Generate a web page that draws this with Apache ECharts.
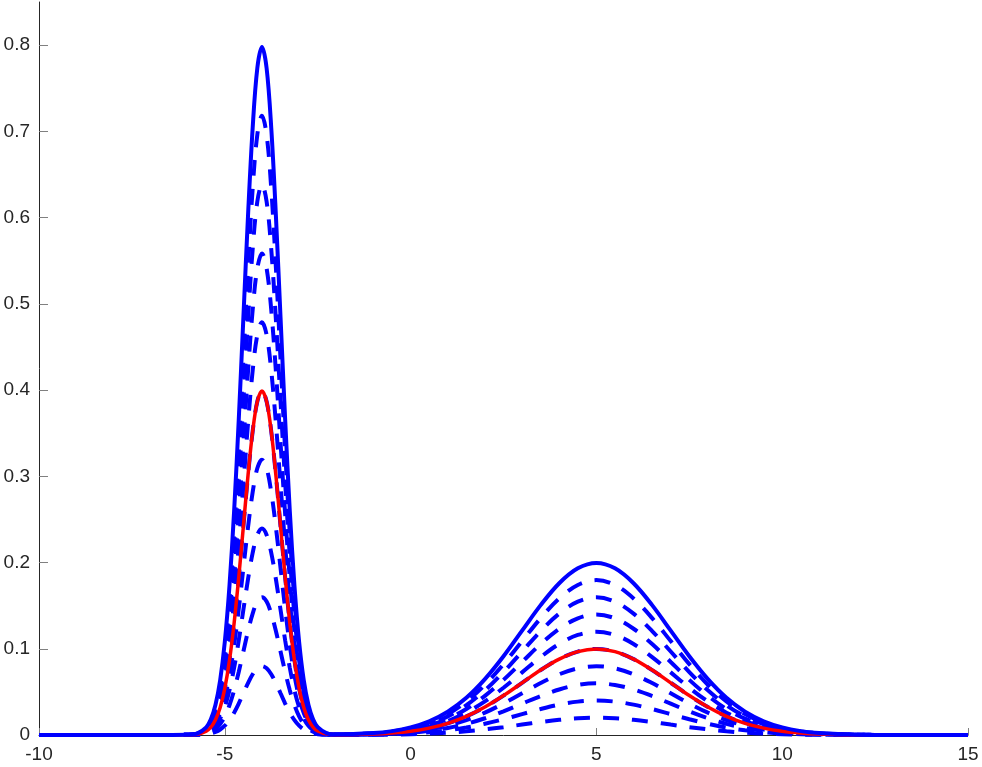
<!DOCTYPE html>
<html>
<head>
<meta charset="utf-8">
<script src="https://cdn.jsdelivr.net/npm/echarts@6/dist/echarts.min.js"></script>
<style>
html,body{margin:0;padding:0;background:#fff;}
#chart{width:982px;height:767px;}
</style>
</head>
<body>
<div id="chart"></div>
<script>
// x positions (shared by every curve)
var xs = [-10, -7, -6, -5.75, -5.5, -5.375, -5.25, -5.125, -5, -4.875, -4.75, -4.625, -4.5, -4.375, -4.25, -4.125, -4, -3.875, -3.75, -3.625, -3.5, -3.375, -3.25, -3.125, -3, -2.875, -2.75, -2.625, -2.5, -2.25, -2, -1, -0.5, 0, 0.5, 1, 1.5, 2, 2.5, 3, 3.5, 4, 4.5, 5, 5.5, 6, 6.5, 7, 7.5, 8, 8.5, 9, 9.5, 10, 10.5, 11, 12, 13, 15];

// solid blue curve
var solidBlue = [0, 0, 0.0003, 0.0017, 0.0089, 0.0182, 0.0351, 0.0635, 0.108, 0.1726, 0.259, 0.3653, 0.4839, 0.6023, 0.7041, 0.7733, 0.7979, 0.7733, 0.7041, 0.6023, 0.4839, 0.3653, 0.259, 0.1726, 0.108, 0.0635, 0.0352, 0.0183, 0.0091, 0.002, 0.0007, 0.0022, 0.0045, 0.0088, 0.0159, 0.027, 0.0431, 0.0648, 0.0913, 0.121, 0.1506, 0.176, 0.1933, 0.1995, 0.1933, 0.176, 0.1506, 0.121, 0.0913, 0.0648, 0.0431, 0.027, 0.0159, 0.0088, 0.0045, 0.0022, 0.0004, 0.0001, 0];

// red curve
var redCurve = [0, 0, 0.0002, 0.0009, 0.0045, 0.0091, 0.0176, 0.0318, 0.054, 0.0863, 0.1295, 0.1827, 0.242, 0.3012, 0.3521, 0.3867, 0.399, 0.3867, 0.3521, 0.3012, 0.242, 0.1827, 0.1295, 0.0863, 0.054, 0.0318, 0.0176, 0.0092, 0.0046, 0.001, 0.0004, 0.0011, 0.0023, 0.0044, 0.008, 0.0135, 0.0216, 0.0324, 0.0457, 0.0605, 0.0753, 0.088, 0.0967, 0.0998, 0.0967, 0.088, 0.0753, 0.0605, 0.0457, 0.0324, 0.0216, 0.0135, 0.008, 0.0044, 0.0023, 0.0011, 0.0002, 0.0001, 0];

// dashed blue curves
var dash90 = [0, 0, 0.0003, 0.0015, 0.008, 0.0164, 0.0316, 0.0572, 0.0972, 0.1553, 0.2331, 0.3288, 0.4355, 0.5421, 0.6337, 0.696, 0.7181, 0.696, 0.6337, 0.5421, 0.4355, 0.3288, 0.2331, 0.1553, 0.0972, 0.0572, 0.0317, 0.0165, 0.0082, 0.0018, 0.0006, 0.002, 0.0041, 0.0079, 0.0143, 0.0243, 0.0388, 0.0583, 0.0822, 0.1089, 0.1355, 0.1584, 0.174, 0.1796, 0.174, 0.1584, 0.1355, 0.1089, 0.0822, 0.0583, 0.0388, 0.0243, 0.0143, 0.0079, 0.0041, 0.002, 0.0004, 0.0001, 0];
var dash80 = [0, 0, 0.0002, 0.0014, 0.0071, 0.0146, 0.0281, 0.0508, 0.0864, 0.1381, 0.2072, 0.2922, 0.3871, 0.4818, 0.5633, 0.6186, 0.6383, 0.6186, 0.5633, 0.4818, 0.3871, 0.2922, 0.2072, 0.1381, 0.0864, 0.0508, 0.0282, 0.0146, 0.0073, 0.0016, 0.0006, 0.0018, 0.0036, 0.007, 0.0127, 0.0216, 0.0345, 0.0518, 0.073, 0.0968, 0.1205, 0.1408, 0.1546, 0.1596, 0.1546, 0.1408, 0.1205, 0.0968, 0.073, 0.0518, 0.0345, 0.0216, 0.0127, 0.007, 0.0036, 0.0018, 0.0003, 0.0001, 0];
var dash70 = [0, 0, 0.0002, 0.0012, 0.0062, 0.0127, 0.0246, 0.0445, 0.0756, 0.1208, 0.1813, 0.2557, 0.3387, 0.4216, 0.4929, 0.5413, 0.5585, 0.5413, 0.4929, 0.4216, 0.3387, 0.2557, 0.1813, 0.1208, 0.0756, 0.0445, 0.0246, 0.0128, 0.0064, 0.0014, 0.0005, 0.0015, 0.0032, 0.0062, 0.0111, 0.0189, 0.0302, 0.0454, 0.0639, 0.0847, 0.1054, 0.1232, 0.1353, 0.1397, 0.1353, 0.1232, 0.1054, 0.0847, 0.0639, 0.0454, 0.0302, 0.0189, 0.0111, 0.0062, 0.0032, 0.0015, 0.0003, 0.0001, 0];
var dash60 = [0, 0, 0.0002, 0.001, 0.0053, 0.0109, 0.0211, 0.0381, 0.0648, 0.1036, 0.1554, 0.2192, 0.2903, 0.3614, 0.4225, 0.464, 0.4787, 0.464, 0.4225, 0.3614, 0.2903, 0.2192, 0.1554, 0.1036, 0.0648, 0.0381, 0.0211, 0.011, 0.0055, 0.0012, 0.0004, 0.0013, 0.0027, 0.0053, 0.0095, 0.0162, 0.0259, 0.0389, 0.0548, 0.0726, 0.0904, 0.1056, 0.116, 0.1197, 0.116, 0.1056, 0.0904, 0.0726, 0.0548, 0.0389, 0.0259, 0.0162, 0.0095, 0.0053, 0.0027, 0.0013, 0.0002, 0.0001, 0];
var dash50 = [0, 0, 0.0002, 0.0009, 0.0045, 0.0091, 0.0176, 0.0318, 0.054, 0.0863, 0.1295, 0.1827, 0.242, 0.3012, 0.3521, 0.3867, 0.399, 0.3867, 0.3521, 0.3012, 0.242, 0.1827, 0.1295, 0.0863, 0.054, 0.0318, 0.0176, 0.0092, 0.0046, 0.001, 0.0004, 0.0011, 0.0023, 0.0044, 0.008, 0.0135, 0.0216, 0.0324, 0.0457, 0.0605, 0.0753, 0.088, 0.0967, 0.0998, 0.0967, 0.088, 0.0753, 0.0605, 0.0457, 0.0324, 0.0216, 0.0135, 0.008, 0.0044, 0.0023, 0.0011, 0.0002, 0.0001, 0];
var dash40 = [0, 0, 0.0001, 0.0007, 0.0036, 0.0073, 0.014, 0.0254, 0.0432, 0.069, 0.1036, 0.1461, 0.1936, 0.2409, 0.2816, 0.3093, 0.3192, 0.3093, 0.2816, 0.2409, 0.1936, 0.1461, 0.1036, 0.069, 0.0432, 0.0254, 0.0141, 0.0073, 0.0036, 0.0008, 0.0003, 0.0009, 0.0018, 0.0035, 0.0064, 0.0108, 0.0172, 0.0259, 0.0365, 0.0484, 0.0602, 0.0704, 0.0773, 0.0798, 0.0773, 0.0704, 0.0602, 0.0484, 0.0365, 0.0259, 0.0172, 0.0108, 0.0064, 0.0035, 0.0018, 0.0009, 0.0002, 0, 0];
var dash30 = [0, 0, 0.0001, 0.0005, 0.0027, 0.0055, 0.0105, 0.0191, 0.0324, 0.0518, 0.0777, 0.1096, 0.1452, 0.1807, 0.2112, 0.232, 0.2394, 0.232, 0.2112, 0.1807, 0.1452, 0.1096, 0.0777, 0.0518, 0.0324, 0.0191, 0.0106, 0.0055, 0.0027, 0.0006, 0.0002, 0.0007, 0.0014, 0.0026, 0.0048, 0.0081, 0.0129, 0.0194, 0.0274, 0.0363, 0.0452, 0.0528, 0.058, 0.0599, 0.058, 0.0528, 0.0452, 0.0363, 0.0274, 0.0194, 0.0129, 0.0081, 0.0048, 0.0026, 0.0014, 0.0007, 0.0001, 0, 0];
var dash20 = [0, 0, 0.0001, 0.0003, 0.0018, 0.0036, 0.007, 0.0127, 0.0216, 0.0345, 0.0518, 0.0731, 0.0968, 0.1205, 0.1408, 0.1547, 0.1596, 0.1547, 0.1408, 0.1205, 0.0968, 0.0731, 0.0518, 0.0345, 0.0216, 0.0127, 0.007, 0.0037, 0.0018, 0.0004, 0.0001, 0.0004, 0.0009, 0.0018, 0.0032, 0.0054, 0.0086, 0.013, 0.0183, 0.0242, 0.0301, 0.0352, 0.0387, 0.0399, 0.0387, 0.0352, 0.0301, 0.0242, 0.0183, 0.013, 0.0086, 0.0054, 0.0032, 0.0018, 0.0009, 0.0004, 0.0001, 0, 0];
var dash10 = [0, 0, 0, 0.0002, 0.0009, 0.0018, 0.0035, 0.0064, 0.0108, 0.0173, 0.0259, 0.0365, 0.0484, 0.0602, 0.0704, 0.0773, 0.0798, 0.0773, 0.0704, 0.0602, 0.0484, 0.0365, 0.0259, 0.0173, 0.0108, 0.0064, 0.0035, 0.0018, 0.0009, 0.0002, 0.0001, 0.0002, 0.0005, 0.0009, 0.0016, 0.0027, 0.0043, 0.0065, 0.0091, 0.0121, 0.0151, 0.0176, 0.0193, 0.02, 0.0193, 0.0176, 0.0151, 0.0121, 0.0091, 0.0065, 0.0043, 0.0027, 0.0016, 0.0009, 0.0005, 0.0002, 0, 0, 0];

// tick labels
var xTicks = [-10, -5, 0, 5, 10, 15];
var yTicks = [0, 0.1, 0.2, 0.3, 0.4, 0.5, 0.6, 0.7, 0.8];

function pairs(ys) {
  return xs.map(function (x, i) { return [x, ys[i]]; });
}

var dashedSets = [dash90, dash80, dash70, dash60, dash50, dash40, dash30, dash20, dash10];
var series = [];
dashedSets.forEach(function (d) {
  series.push({
    type: 'line', data: pairs(d), showSymbol: false, smooth: 0.35,
    clip: false, z: 2,
    lineStyle: { color: '#0000ff', width: 4, type: [16, 13], cap: 'butt' }
  });
});
series.push({
  type: 'line', data: pairs(redCurve), showSymbol: false, smooth: 0.35,
  clip: false, z: 3,
  lineStyle: { color: '#ff0000', width: 3.5 }
});
series.push({
  type: 'line', data: pairs(solidBlue), showSymbol: false, smooth: 0.35,
  clip: false, z: 4,
  lineStyle: { color: '#0000ff', width: 4 }
});

var labelFont = { color: '#262626', fontSize: 19, fontFamily: 'Liberation Sans, Arial, sans-serif' };

var chart = echarts.init(document.getElementById('chart'), null, { renderer: 'canvas' });
chart.setOption({
  animation: false,
  backgroundColor: '#ffffff',
  grid: { left: 39, right: 14, top: 2, bottom: 32, containLabel: false },
  xAxis: {
    type: 'value', min: -10, max: 15, interval: 5,
    splitLine: { show: false },
    axisLine: { show: true, onZero: false, lineStyle: { color: '#262626', width: 1 } },
    axisTick: { show: true, inside: true, length: 7, lineStyle: { color: '#808080' }, customValues: xTicks },
    axisLabel: Object.assign({ margin: 10, customValues: xTicks }, labelFont)
  },
  yAxis: {
    type: 'value', min: 0, max: 0.85,
    splitLine: { show: false },
    axisLine: { show: true, onZero: false, lineStyle: { color: '#262626', width: 1 } },
    axisTick: { show: true, inside: true, length: 9, lineStyle: { color: '#808080' }, customValues: yTicks },
    axisLabel: Object.assign({ margin: 9, customValues: yTicks }, labelFont)
  },
  series: series
});
</script>
</body>
</html>
